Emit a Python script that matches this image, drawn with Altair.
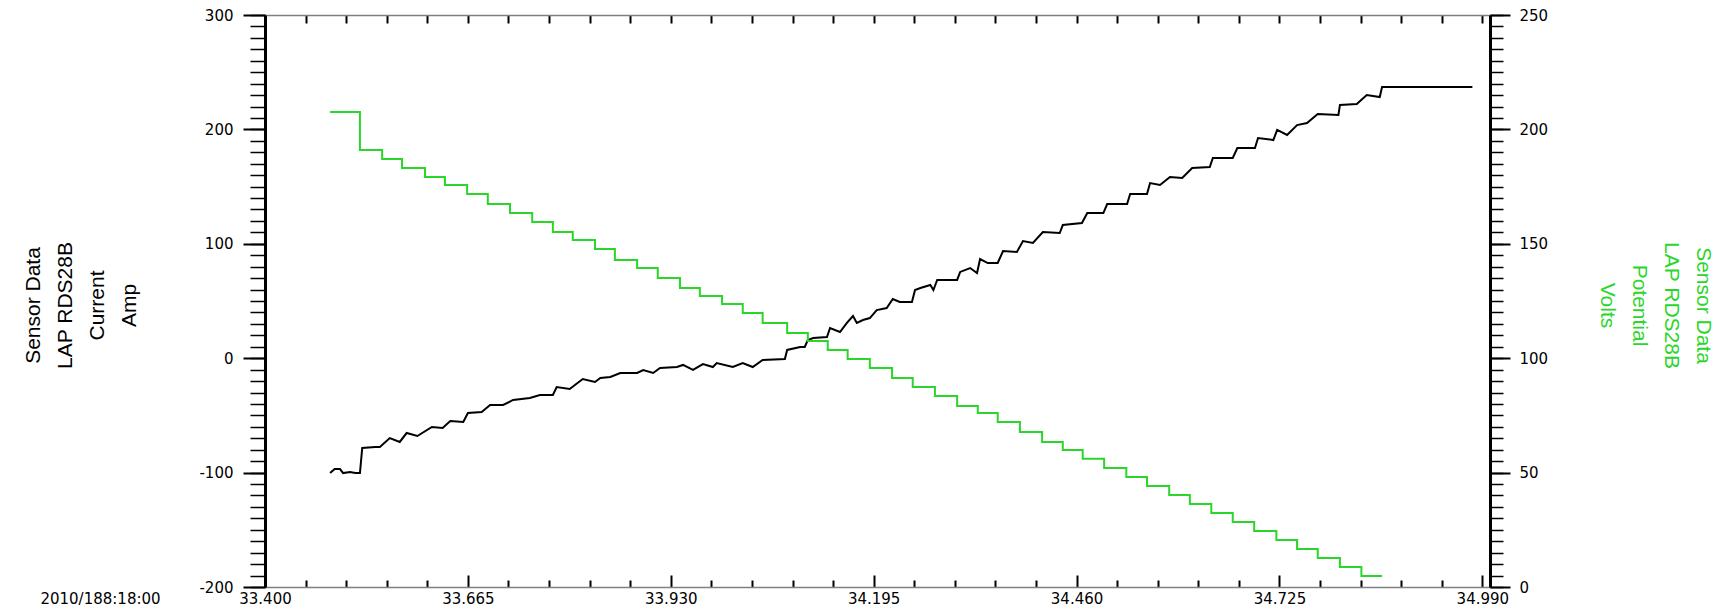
import altair as alt
import pandas as pd

# ---------------- data ----------------
# Current (black, left axis, Amp)
cur_t = [33.485, 33.491, 33.498, 33.502, 33.511, 33.518, 33.524, 33.527, 33.544, 33.550,
         33.563, 33.576, 33.585, 33.599, 33.618, 33.632, 33.642, 33.659, 33.665, 33.683,
         33.694, 33.711, 33.724, 33.746, 33.759, 33.776, 33.781, 33.798, 33.815, 33.831,
         33.838,
         33.851, 33.864, 33.886, 33.894, 33.907, 33.916, 33.938, 33.946, 33.959, 33.972,
         33.985, 33.990, 34.011, 34.024, 34.037, 34.050, 34.079, 34.082, 34.099, 34.105,
         34.109, 34.116, 34.134, 34.138, 34.151, 34.160, 34.168, 34.173, 34.181, 34.190,
         34.199, 34.212, 34.220, 34.229, 34.245, 34.249, 34.256, 34.269, 34.273, 34.278,
         34.304, 34.308, 34.321, 34.330, 34.334, 34.344, 34.357,
         34.364, 34.382, 34.390, 34.403, 34.416, 34.438, 34.442, 34.467, 34.474, 34.495,
         34.500, 34.526, 34.530, 34.552, 34.556, 34.569, 34.582, 34.598, 34.611, 34.634,
         34.638, 34.664, 34.670, 34.693, 34.697, 34.717, 34.722, 34.735, 34.748, 34.761,
         34.775, 34.802, 34.804, 34.826, 34.839, 34.856, 34.859, 34.977]
cur_v = [-100.4, -96.9, -96.9, -100.4, -99.5, -100.4, -100.4, -78.5, -77.6, -77.6,
         -69.8, -73.2, -65.4, -68.0, -60.1, -61.0, -54.9, -55.8, -47.9, -47.0,
         -40.9, -40.9, -36.5, -34.8, -32.2, -32.2, -25.2, -26.9, -18.2, -20.8,
         -17.3,
         -16.4, -12.9, -12.9, -10.3, -12.9, -8.6, -7.7, -5.9, -10.3, -5.1,
         -7.7, -4.2, -7.7, -4.2, -7.7, -1.6, -0.7, 7.2, 9.8, 9.8,
         15.9, 17.7, 18.5, 26.4, 22.9, 30.8, 36.9, 30.8, 33.4, 35.1,
         42.1, 43.9, 51.7, 49.1, 49.1, 59.6, 61.4, 64.0, 59.6, 68.4,
         68.4, 75.4, 78.8, 74.5, 86.7, 83.2, 83.2,
         93.7, 92.8, 102.4, 100.7, 110.3, 109.4, 116.4, 118.2, 126.9, 126.9,
         134.8, 134.8, 143.5, 143.5, 153.1, 151.4, 158.4, 157.5, 166.3, 167.1,
         175.0, 175.0, 183.7, 183.7, 192.5, 190.7, 199.5, 195.1, 203.8, 205.6,
         213.5, 212.6, 221.3, 222.2, 230.1, 228.3, 237.1, 237.1]

# Potential (green, right axis, Volts) - staircase, each value holds until next time
pot_t = [33.485, 33.524, 33.553, 33.579, 33.609, 33.635, 33.664, 33.691, 33.720, 33.749,
         33.776, 33.802, 33.831, 33.857, 33.886, 33.913, 33.942, 33.968, 33.997, 34.024,
         34.050, 34.082, 34.109, 34.135, 34.161, 34.190, 34.219, 34.246, 34.275, 34.304,
         34.331, 34.357, 34.386, 34.415, 34.442, 34.468, 34.496, 34.525, 34.552, 34.581,
         34.608, 34.636, 34.664, 34.692, 34.721, 34.748, 34.775, 34.804, 34.832, 34.859]
pot_v = [207.6, 191.0, 187.1, 183.1, 179.2, 175.7, 171.8, 167.4, 163.5, 159.5,
         155.2, 151.7, 147.7, 142.9, 139.4, 135.1, 130.7, 127.2, 123.7, 119.8,
         115.4, 111.0, 107.5, 103.6, 99.6, 95.7, 91.3, 87.4, 83.5, 79.1,
         76.1, 72.1, 67.7, 63.4, 59.9, 56.0, 52.0, 48.1, 44.1, 40.2,
         36.3, 32.3, 28.4, 24.5, 20.5, 16.6, 12.7, 8.7, 4.8, 4.8]

# ---------------- axes ----------------
x_major = [33.400, 33.665, 33.930, 34.195, 34.460, 34.725, 34.990]
x_all = [round(33.4 + 0.053 * i, 3) for i in range(31)]
x_minor = [v for i, v in enumerate(x_all) if i % 5 != 0]
y_left_major = [-200, -100, 0, 100, 200, 300]
y_left_minor = list(range(-200, 301, 10))
y_right_major = [0, 50, 100, 150, 200, 250]
y_right_minor = list(range(0, 251, 5))
left_title = ["Sensor Data", "LAP RDS28B", "Current", "Amp"]
right_title = ["Sensor Data", "LAP RDS28B", "Potential", "Volts"]
time_label = "2010/188:18:00"

GREEN = "#2bd62b"
FONT = "DejaVu Sans"
TFONT = "Liberation Sans"
LFS = 15
W, H = 1225, 572

cur = pd.DataFrame({"t": cur_t, "v": cur_v})
pot = pd.DataFrame({"t": pot_t, "v": pot_v})


def xs():
    return alt.Scale(domain=[33.4, 35.0], nice=False, zero=False)


def ys_left():
    return alt.Scale(domain=[-200, 300], nice=False, zero=False)


def ys_right():
    return alt.Scale(domain=[0, 250], nice=False, zero=False)


black = alt.Chart(cur).mark_line(color="black", strokeWidth=2).encode(
    x=alt.X("t:Q", scale=xs(), axis=alt.Axis(
        orient="bottom", values=x_major, format=".3f", ticks=False, tickSize=0,
        labelFont=FONT, labelFontSize=LFS, labelColor="black", labelPadding=4,
        labelFlush=False, labelOverlap=False, domain=True, domainColor="#808080",
        domainWidth=1.5, grid=False, title=time_label, titleX=-165, titleY=4,
        titleAlign="center", titleBaseline="top", titleFont=FONT, titleFontSize=LFS,
        titleFontWeight="normal", titleColor="black")),
    y=alt.Y("v:Q", scale=ys_left(), axis=alt.Axis(
        orient="left", values=y_left_major,
        labelExpr="datum.value < 0 ? '-' + format(-datum.value, 'd') : format(datum.value, 'd')",
        tickSize=22, tickWidth=2, tickColor="black", labelPadding=10,
        labelFont=FONT, labelFontSize=LFS, labelColor="black", labelOverlap=False,
        labelFlush=False, domain=True, domainColor="black", domainWidth=3, grid=False,
        title=left_title, titleX=-232, titleY=H / 2 + 4, titleAngle=270, titleAlign="center",
        titleBaseline="middle", titleFont=TFONT, titleFontSize=21, titleLineHeight=32,
        titleFontWeight="normal", titleColor="black")),
)

green = alt.Chart(pot).mark_line(color=GREEN, strokeWidth=2, interpolate="step-after").encode(
    x=alt.X("t:Q", scale=xs(), axis=None),
    y=alt.Y("v:Q", scale=ys_right(), axis=alt.Axis(
        orient="right", values=y_right_major, format="d",
        tickSize=20, tickWidth=2, tickColor="black", labelPadding=9,
        labelFont=FONT, labelFontSize=LFS, labelColor="black", labelOverlap=False,
        labelFlush=False, domain=True, domainColor="black", domainWidth=3, grid=False,
        title=right_title, titleX=212, titleY=H / 2 + 4, titleAngle=90, titleAlign="center",
        titleBaseline="middle", titleFont=TFONT, titleFontSize=21, titleLineHeight=32,
        titleFontWeight="normal", titleColor=GREEN)),
)

# bottom major ticks pointing inward + left minor ticks
ticks_a = alt.Chart(cur).mark_line(opacity=0).encode(
    x=alt.X("t:Q", scale=xs(), axis=alt.Axis(
        orient="top", offset=-H, values=x_major, labels=False, tickSize=12,
        tickWidth=2, tickColor="black", domain=False, grid=False, title=None)),
    y=alt.Y("v:Q", scale=ys_left(), axis=alt.Axis(
        orient="left", values=y_left_minor, labels=False, tickSize=15,
        tickWidth=1.5, tickColor="black", domain=False, grid=False, title=None)),
)

# bottom minor ticks pointing inward + right minor ticks
ticks_b = alt.Chart(cur).mark_line(opacity=0).encode(
    x=alt.X("t:Q", scale=xs(), axis=alt.Axis(
        orient="top", offset=-H, values=x_minor, labels=False, tickSize=7,
        tickWidth=2, tickColor="black", domain=False, grid=False, title=None)),
    y=alt.Y("v:Q", scale=ys_right(), axis=alt.Axis(
        orient="right", values=y_right_minor, labels=False, tickSize=13,
        tickWidth=1.5, tickColor="black", domain=False, grid=False, title=None)),
)

# top border with ticks pointing down
ticks_c = alt.Chart(cur).mark_line(opacity=0).encode(
    x=alt.X("t:Q", scale=xs(), axis=alt.Axis(
        orient="bottom", offset=-H, values=x_all, labels=False, tickSize=8,
        tickWidth=2, tickColor="black", domain=True, domainColor="#808080",
        domainWidth=1.5, grid=False, title=None)),
    y=alt.Y("v:Q", scale=ys_left(), axis=None),
)

chart = alt.layer(ticks_a, ticks_b, ticks_c, black, green).resolve_scale(
    x="independent", y="independent"
).properties(
    width=W, height=H,
    autosize=alt.AutoSizeParams(type="none"),
    padding={"left": 265, "top": 15, "right": 236, "bottom": 22},
    background="white",
).configure_view(stroke=None)

chart.save("out.html", embed_options={"renderer": "svg", "actions": False})
